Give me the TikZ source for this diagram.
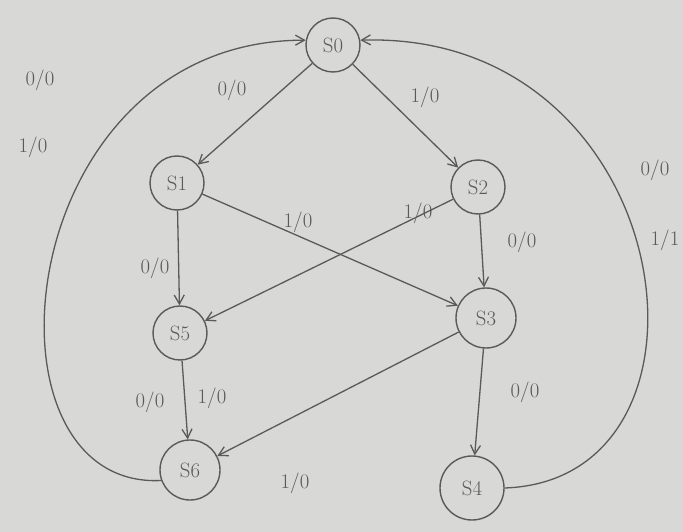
\documentclass[tikz,border=0pt]{standalone}
\usetikzlibrary{arrows.meta}
\definecolor{paper}{RGB}{216,216,214}
\definecolor{ink}{RGB}{90,90,90}
\tikzset{
  st/.style={circle,draw=ink,line width=1.4pt,minimum size=54pt,inner sep=0pt,font=\huge,text=ink},
  bigst/.style={st,minimum size=60pt},
  tr/.style={draw=ink,line width=1.3pt,-{Straight Barb[length=9pt,width=10pt]}},
  lbl/.style={font=\huge,text=ink}
}
\begin{document}
\begin{tikzpicture}[x=1pt,y=-1pt]
\fill[paper] (0,0) rectangle (683,532);
\useasboundingbox (0,0) rectangle (683,532);
\node[st] (s0) at (333,45) {S0};
\node[st] (s1) at (177,183) {S1};
\node[st] (s2) at (478,187) {S2};
\node[st] (s5) at (180,333) {S5};
\node[bigst] (s3) at (486,318) {S3};
\node[bigst] (s6) at (190,470) {S6};
\node[bigst,minimum size=64pt] (s4) at (472,488) {S4};

\draw[tr] (s0) -- (s1);
\draw[tr] (s0) -- (s2);
\draw[tr] (s1) -- (s5);
\draw[tr] (s1) -- (s3);
\draw[tr] (s2) -- (s5);
\draw[tr] (s2) -- (s3);
\draw[tr] (s5) -- (s6);
\draw[tr] (s3) -- (s6);
\draw[tr] (s3) -- (s4);
\draw[tr] (s6.-160) .. controls (-30,490) and (10,40) .. (s0.170);
\draw[tr] (s4.0) .. controls (740,480) and (680,30) .. (s0.10);

\node[lbl] (l1) at (40,80) {0/0};
\node[lbl] (l2) at (33,147) {1/0};
\node[lbl] (l3) at (232,90) {0/0};
\node[lbl] (l4) at (425,97) {1/0};
\node[lbl] (l5) at (655,170) {0/0};
\node[lbl] (l6) at (665,240) {1/1};
\node[lbl] (l7) at (298,222) {1/0};
\node[lbl] (l8) at (418,213) {1/0};
\node[lbl] (l9) at (522,242) {0/0};
\node[lbl] (l10) at (155,268) {0/0};
\node[lbl] (l11) at (150,402) {0/0};
\node[lbl] (l12) at (212,398) {1/0};
\node[lbl] (l13) at (525,392) {0/0};
\node[lbl] (l14) at (295,483) {1/0};
\end{tikzpicture}
\end{document}
